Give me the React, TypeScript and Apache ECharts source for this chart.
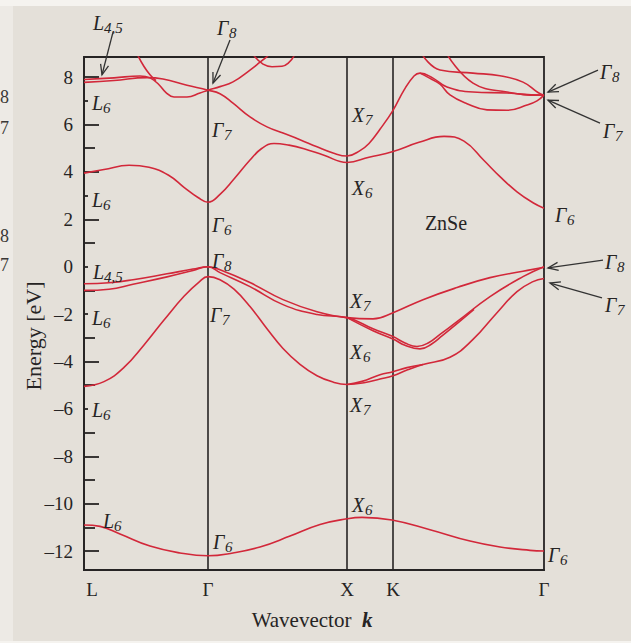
import React, { useEffect, useRef } from "react";
import * as echarts from "echarts";

// k-path positions of the high-symmetry points and their names
const K_POS = [0, 124, 263, 309, 460];
const K_NAMES = ["L", "Γ", "X", "K", "Γ"];

// energy ticks [eV]
const TICK_LABELS = [-12, -10, -8, -6, -4, -2, 0, 2, 4, 6, 8];
const LONG_TICKS = [-12, -10, -8, -4, 2, 4, 6, 8];
const MID_TICKS = [-11, -9, -7, -5, -3, -1, 1, 5];
const SHORT_TICKS = [-6, -2, 0, 3, 7];

// bands: [k, E]
const bandS = [
  [0, -10.9], [16, -10.96], [36, -11.28], [66, -11.79], [96, -12.08], [124, -12.2],
  [149, -12.08], [176, -11.83], [206, -11.37], [236, -10.88], [263, -10.64], [278, -10.58],
  [308, -10.69], [346, -11.1], [386, -11.58], [416, -11.83], [446, -11.97], [460, -12.0],
];
const bandSO = [
  [0, -5.05], [20, -4.85], [40, -4.25], [60, -3.3], [80, -2.25], [100, -1.25], [115, -0.65], [124, -0.42],
  [136, -0.55], [150, -0.95], [166, -1.68], [183, -2.62], [199, -3.45], [216, -4.12], [233, -4.6],
  [249, -4.87], [263, -4.97],
  [280, -4.9], [296, -4.74], [309, -4.6], [323, -4.36], [339, -4.13], [366, -3.82], [389, -3.07],
  [413, -1.94], [433, -1.05], [449, -0.63], [460, -0.5],
];
const bandSO2 = [
  [263, -4.97], [278, -4.84], [296, -4.56], [309, -4.43], [323, -4.26], [339, -4.13],
];
const bandHH = [
  [0, -0.72], [25, -0.68], [49, -0.55], [83, -0.3], [109, -0.1], [124, 0],
  [136, -0.13], [166, -0.67], [199, -1.39], [233, -1.9], [263, -2.15],
  [289, -2.2], [309, -1.94], [339, -1.39], [373, -0.88], [406, -0.46], [439, -0.19], [460, -0.02],
];
const bandLH = [
  [0, -1.0], [25, -0.95], [49, -0.74], [83, -0.43], [109, -0.16], [124, 0],
  [136, -0.25], [166, -0.84], [199, -1.6], [233, -2.02], [263, -2.15],
  [289, -2.62], [309, -2.95], [321, -3.22], [333, -3.37], [345, -3.2], [356, -2.86], [373, -2.32],
  [406, -1.26], [439, -0.42], [460, 0],
];
const bandLH2 = [
  [263, -2.15], [289, -2.7], [309, -3.05], [321, -3.32], [336, -3.47], [348, -3.25], [358, -2.92],
  [373, -2.4], [390, -1.8],
];
const bandC1 = [
  [0, 3.95], [20, 4.1], [45, 4.28], [65, 4.2], [85, 3.85], [100, 3.35], [114, 2.92], [124, 2.72],
  [136, 3.05], [150, 3.7], [166, 4.5], [178, 5.0], [190, 5.2], [205, 5.13], [220, 4.98], [240, 4.7],
  [263, 4.4], [285, 4.62], [309, 4.86], [335, 5.25], [360, 5.5], [380, 5.3], [400, 4.48], [416, 3.8],
  [433, 3.16], [449, 2.7], [460, 2.47],
];
const bandC2 = [
  [0, 7.78], [30, 7.86], [63, 7.98], [79, 7.92], [103, 7.66], [124, 7.45],
  [136, 7.3], [149, 6.9], [166, 6.32], [183, 5.9], [199, 5.64], [216, 5.36], [233, 5.06],
  [249, 4.8], [263, 4.67], [276, 4.9], [285, 5.2], [296, 5.8], [309, 6.6], [320, 7.45],
  [330, 8.05], [336, 8.17], [349, 7.96], [363, 7.58], [389, 7.37], [423, 7.33], [456, 7.24], [460, 7.24],
];
const bandC3 = [
  [0, 7.9], [30, 7.97], [56, 8.05], [66, 7.97], [75, 7.68], [82, 7.35], [90, 7.16], [103, 7.16],
  [116, 7.33], [124, 7.45], [136, 7.6], [149, 7.8], [166, 8.3], [176, 8.63], [184, 8.9],
];
const bandC4 = [[54, 8.9], [60, 8.45], [66, 8.1], [72, 7.85]];
const bandC5 = [[170, 8.9], [179, 8.55], [188, 8.44], [198, 8.46], [205, 8.62], [210, 8.9]];
const bandC6 = [
  [336, 8.17], [346, 7.95], [356, 7.7], [366, 7.25], [383, 6.88], [403, 6.62], [423, 6.6],
  [443, 6.82], [453, 7.0], [460, 7.24],
];
const bandC7 = [
  [339, 8.9], [356, 8.3], [389, 8.17], [416, 8.06], [439, 7.79], [454, 7.35], [460, 7.24],
];
const bandC8 = [[364, 8.9], [389, 7.75], [423, 7.37], [456, 7.24], [460, 7.24]];

const BANDS = [bandS, bandSO, bandSO2, bandHH, bandLH, bandLH2, bandC1, bandC2, bandC3, bandC4, bandC5, bandC6, bandC7, bandC8];

const INK = "#262424";
const RED = "#d2283a";
const SERIF = '"Liberation Serif", "DejaVu Serif", serif';

// symmetry labels: [k, E, name, subscript]
const SYM_LABELS: [number, number, string, string][] = [
  [9, 10.3, "L", "4,5"], [133, 10.07, "Γ", "8"],
  [8, 6.9, "L", "6"], [128, 5.77, "Γ", "7"], [8, 2.81, "L", "6"], [128, 1.76, "Γ", "6"],
  [128, 0.24, "Γ", "8"], [9, -0.22, "L", "4,5"], [8, -2.16, "L", "6"], [126, -2.04, "Γ", "7"],
  [8, -6.05, "L", "6"], [19, -10.73, "L", "6"], [129, -11.62, "Γ", "6"],
  [268, 6.4, "X", "7"], [268, 3.32, "X", "6"], [266, -1.43, "X", "7"], [266, -3.6, "X", "6"],
  [266, -5.83, "X", "7"], [268, -10.05, "X", "6"],
  [516, 8.21, "Γ", "8"], [519, 5.72, "Γ", "7"], [471, 2.18, "Γ", "6"],
  [521, 0.2, "Γ", "8"], [521, -1.62, "Γ", "7"], [464, -12.17, "Γ", "6"],
];
// advance of each italic symbol before its subscript
const SYM_WIDTH: Record<string, number> = { L: 11, "Γ": 12, X: 13 };

// arrows: [kTail, ETail, kTip, ETip]
const ARROWS: [number, number, number, number][] = [
  [29, 9.9, 18, 8.1], [146, 9.57, 129, 7.75],
  [514, 8.3, 464, 7.37], [516, 6.06, 464, 7.03],
  [519, 0.28, 464, -0.05], [518, -1.32, 466, -0.69],
];

export default function App() {
  const ref = useRef<HTMLDivElement>(null);
  useEffect(() => {
    const chart = echarts.init(ref.current!, null, { renderer: "svg" });
    const Y_MIN = -12.8;
    const Y_MAX = 8.85;
    const tickAxis = (values: number[], len: number) => ({
      type: "value",
      min: Y_MIN,
      max: Y_MAX,
      position: "left",
      axisLine: { show: false },
      splitLine: { show: false },
      axisLabel: { show: false },
      axisTick: { show: true, inside: true, length: len, customValues: values, lineStyle: { color: INK, width: 1.8 } },
    });
    const series: any[] = BANDS.map((b, i) => ({
      type: "line",
      data: b,
      showSymbol: false,
      smooth: 0.45,
      lineStyle: { color: RED, width: 1.6 },
      z: 3,
      silent: true,
      ...(i === 0
        ? {
            markLine: {
              silent: true,
              symbol: ["none", "none"],
              label: { show: false },
              lineStyle: { color: INK, width: 1.6, type: "solid" },
              data: K_POS.slice(1, 4).map((k) => ({ xAxis: k })),
              z: 2,
            },
          }
        : {}),
    }));
    chart.setOption({
      animation: false,
      backgroundColor: "#e4e0d9",
      grid: { left: 84, right: 87, top: 57, bottom: 73, show: true, borderColor: INK, borderWidth: 1.8, backgroundColor: "transparent" },
      xAxis: {
        type: "value",
        min: 0,
        max: 460,
        axisLine: { show: true, onZero: false, lineStyle: { color: INK, width: 2 } },
        axisTick: { show: false },
        splitLine: { show: false },
        axisLabel: {
          customValues: K_POS,
          margin: 10,
          fontFamily: SERIF,
          fontSize: 19,
          color: INK,
          formatter: (v: number) => {
            const i = K_POS.indexOf(v);
            return i === 0 ? "{l|L}" : K_NAMES[i];
          },
          rich: { l: { fontFamily: SERIF, fontSize: 19, color: INK, padding: [0, 0, 0, 16] } },
        },
      },
      yAxis: [
        {
          type: "value",
          min: Y_MIN,
          max: Y_MAX,
          position: "left",
          axisLine: { show: true, onZero: false, lineStyle: { color: INK, width: 1.8 } },
          splitLine: { show: false },
          axisTick: { show: true, inside: true, length: 15, customValues: LONG_TICKS, lineStyle: { color: INK, width: 1.8 } },
          axisLabel: {
            customValues: TICK_LABELS,
            margin: 11,
            fontFamily: SERIF,
            fontSize: 19,
            color: INK,
            formatter: (v: number) => String(v).replace("-", "\u2013"),
          },
        },
        tickAxis(MID_TICKS, 11),
        tickAxis(SHORT_TICKS, 4),
      ],
      series,
    });

    const px = (k: number, e: number) => chart.convertToPixel({ gridIndex: 0 }, [k, e]) as number[];
    const graphics: any[] = [
      { type: "rect", shape: { x: 0, y: 0, width: 13, height: 643 }, style: { fill: "#edeae5" }, z: -1 },
      { type: "rect", shape: { x: 0, y: 0, width: 631, height: 6 }, style: { fill: "#f5f3ef" }, z: -1 },
      { type: "rect", shape: { x: 0, y: 641, width: 631, height: 2 }, style: { fill: "#f5f3ef" }, z: -1 },
    ];
    for (const [txt, y] of [["8", 97], ["7", 128], ["8", 236], ["7", 265]] as [string, number][]) {
      graphics.push({ type: "text", x: 0, y, style: { text: txt, fontFamily: SERIF, fontSize: 18, fill: "#3a3836", verticalAlign: "middle" } });
    }
    for (const [k, e, name, sub] of SYM_LABELS) {
      const [x, y] = px(k, e);
      graphics.push({
        type: "text",
        x,
        y,
        z: 10,
        style: { text: name, fontFamily: SERIF, fontStyle: "italic", fontSize: 20, fill: INK, align: "left", verticalAlign: "middle" },
      });
      graphics.push({
        type: "text",
        x: x + SYM_WIDTH[name],
        y: y + 5,
        z: 10,
        style: { text: sub, fontFamily: SERIF, fontStyle: "italic", fontSize: 15, fill: INK, align: "left", verticalAlign: "middle" },
      });
    }
    for (const [k0, e0, k1, e1] of ARROWS) {
      const [x0, y0] = px(k0, e0);
      const [x1, y1] = px(k1, e1);
      const a = Math.atan2(y1 - y0, x1 - x0);
      const L = 11;
      const h1 = [x1 - L * Math.cos(a - 0.38), y1 - L * Math.sin(a - 0.38)];
      const h2 = [x1 - L * Math.cos(a + 0.38), y1 - L * Math.sin(a + 0.38)];
      graphics.push({ type: "line", shape: { x1: x0, y1: y0, x2: x1, y2: y1 }, style: { stroke: "#333", lineWidth: 1.3 }, z: 10 });
      graphics.push({ type: "polyline", shape: { points: [h1, [x1, y1], h2] }, style: { stroke: "#333", lineWidth: 1.3, fill: null }, z: 10 });
    }
    {
      const [x, y] = px(362, 1.84);
      graphics.push({ type: "text", x, y, z: 10, style: { text: "ZnSe", fontFamily: SERIF, fontSize: 20, fill: INK, align: "center", verticalAlign: "middle" } });
    }
    graphics.push({
      type: "text",
      x: 33,
      y: 336,
      rotation: Math.PI / 2,
      style: { text: "Energy [eV]", fontFamily: SERIF, fontSize: 22, fill: INK, align: "center", verticalAlign: "middle" },
    });
    graphics.push({
      type: "text",
      x: 312,
      y: 620,
      style: {
        text: "Wavevector  {k|k}",
        fontFamily: SERIF,
        fontSize: 21,
        fill: INK,
        align: "center",
        verticalAlign: "middle",
        rich: { k: { fontFamily: SERIF, fontSize: 21, fontStyle: "italic", fontWeight: "bold", fill: INK } },
      },
    });
    chart.setOption({ graphic: graphics });
    return () => chart.dispose();
  }, []);
  return <div ref={ref} style={{ position: "fixed", left: 0, top: 0, width: 631, height: 643 }} />;
}
